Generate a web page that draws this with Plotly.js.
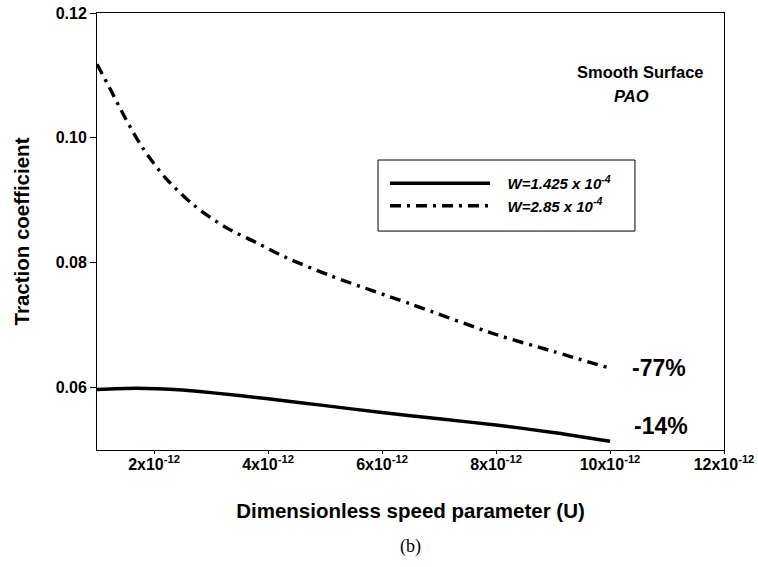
<!DOCTYPE html>
<html>
<head>
<meta charset="utf-8">
<script src="https://cdn.plot.ly/plotly-3.0.1.min.js"></script>
<style>
html,body{margin:0;padding:0;background:#fff;}
#chart{width:758px;height:567px;}
</style>
</head>
<body>
<div id="chart"></div>
<script>
// Dimensionless speed parameter U, in units of 1e-12
const speedLowLoad = [1.0, 1.7, 2.5, 3.0, 4.0, 5.0, 6.0, 7.0, 8.0, 9.0, 10.0];
const tractionLowLoad = [0.0597, 0.0599, 0.0596, 0.0592, 0.0582, 0.0571, 0.0560, 0.0550, 0.0540, 0.0528, 0.0514];

const speedHighLoad = [1.0, 1.25, 1.5, 1.8, 2.2, 2.7, 3.25, 3.8, 4.3, 5.1, 6.5, 8.0, 9.0, 10.0];
const tractionHighLoad = [0.1118, 0.1075, 0.1031, 0.0984, 0.0936, 0.0892, 0.0857, 0.0832, 0.0809, 0.0779, 0.0734, 0.0685, 0.0658, 0.0631];

const seriesNames = ["W=1.425 x 10<sup>-4</sup>", "W=2.85 x 10<sup>-4</sup>"];
const xTickVals = [2, 4, 6, 8, 10, 12];
const xTickText = ["2x10<sup>-12</sup>", "4x10<sup>-12</sup>", "6x10<sup>-12</sup>", "8x10<sup>-12</sup>", "10x10<sup>-12</sup>", "12x10<sup>-12</sup>"];
const yTickVals = [0.06, 0.08, 0.10, 0.12];
const yTickText = ["0.06", "0.08", "0.10", "0.12"];
const changeLabels = ["-14%", "-77%"];

const FONT = "Liberation Sans, Arial, sans-serif";
const bold = s => "<b>" + s + "</b>";
const pad = "&nbsp;&nbsp;&nbsp;";

const traces = [
  {
    x: speedLowLoad, y: tractionLowLoad, type: "scatter", mode: "lines",
    name: bold("<i>" + pad + seriesNames[0] + "</i>"),
    line: {color: "#000", width: 3.4, shape: "spline", smoothing: 0.8}
  },
  {
    x: speedHighLoad, y: tractionHighLoad, type: "scatter", mode: "lines",
    name: bold("<i>" + pad + seriesNames[1] + "</i>"),
    line: {color: "#000", width: 3.4, shape: "spline", smoothing: 0.8, dash: "11px,6px,3px,6px"}
  }
];

const layout = {
  width: 758, height: 567,
  margin: {l: 97, r: 34, t: 13, b: 117},
  paper_bgcolor: "#fff", plot_bgcolor: "#fff",
  font: {family: FONT, color: "#000"},
  showlegend: true,
  legend: {
    x: 0.4593, y: 0.6476, xanchor: "left", yanchor: "top",
    bgcolor: "rgba(0,0,0,0)", borderwidth: 0,
    font: {family: FONT, size: 15, color: "#000"},
    itemwidth: 100,
    tracegroupgap: 0
  },
  shapes: [
    {type: "rect", xref: "paper", yref: "paper", x0: 0.4482, x1: 0.858, y0: 0.501, y1: 0.6636,
     line: {color: "#000", width: 1}, fillcolor: "#fff", layer: "above"}
  ],
  xaxis: {
    range: [1, 12], tickvals: xTickVals, ticktext: xTickText.map(bold),
    showline: true, linecolor: "#000", linewidth: 1, mirror: true,
    ticks: "outside", ticklen: 3, tickcolor: "#000", ticklabelstandoff: -3,
    showgrid: false, zeroline: false,
    tickfont: {family: FONT, size: 16, color: "#000"},
    title: {text: bold("Dimensionless speed parameter (U)"), font: {family: FONT, size: 20.5, color: "#000"}, standoff: 31}
  },
  yaxis: {
    range: [0.05, 0.12], tickvals: yTickVals, ticktext: yTickText.map(bold),
    showline: true, linecolor: "#000", linewidth: 1, mirror: true,
    ticks: "outside", ticklen: 6, tickcolor: "#000",
    showgrid: false, zeroline: false,
    tickfont: {family: FONT, size: 16, color: "#000"},
    title: {text: bold("Traction coefficient"), font: {family: FONT, size: 20.5, color: "#000"}, standoff: 20}
  },
  annotations: [
    {xref: "paper", yref: "paper", x: 0.867, y: 0.865, xanchor: "center", yanchor: "middle", showarrow: false,
     text: "<b>Smooth Surface</b>", font: {family: FONT, size: 16.5, color: "#000"}},
    {xref: "paper", yref: "paper", x: 0.852, y: 0.81, xanchor: "center", yanchor: "middle", showarrow: false,
     text: "<b><i>PAO</i></b>", font: {family: FONT, size: 16.5, color: "#000"}},
    {xref: "x", yref: "y", x: speedHighLoad[speedHighLoad.length - 1], y: tractionHighLoad[tractionHighLoad.length - 1],
     xanchor: "left", yanchor: "middle", xshift: 20, showarrow: false,
     text: "<b>" + changeLabels[1] + "</b>", font: {family: FONT, size: 23, color: "#000"}},
    {xref: "x", yref: "y", x: speedLowLoad[speedLowLoad.length - 1], y: tractionLowLoad[tractionLowLoad.length - 1],
     xanchor: "left", yanchor: "middle", xshift: 22, yshift: 15, showarrow: false,
     text: "<b>" + changeLabels[0] + "</b>", font: {family: FONT, size: 23, color: "#000"}},
    {xref: "paper", yref: "paper", x: 0.5, y: -0.22, xanchor: "center", yanchor: "middle", showarrow: false,
     text: "(b)", font: {family: "Liberation Serif, Times New Roman, serif", size: 18, color: "#000"}}
  ]
};

Plotly.newPlot("chart", traces, layout, {displayModeBar: false, staticPlot: true});
</script>
</body>
</html>
